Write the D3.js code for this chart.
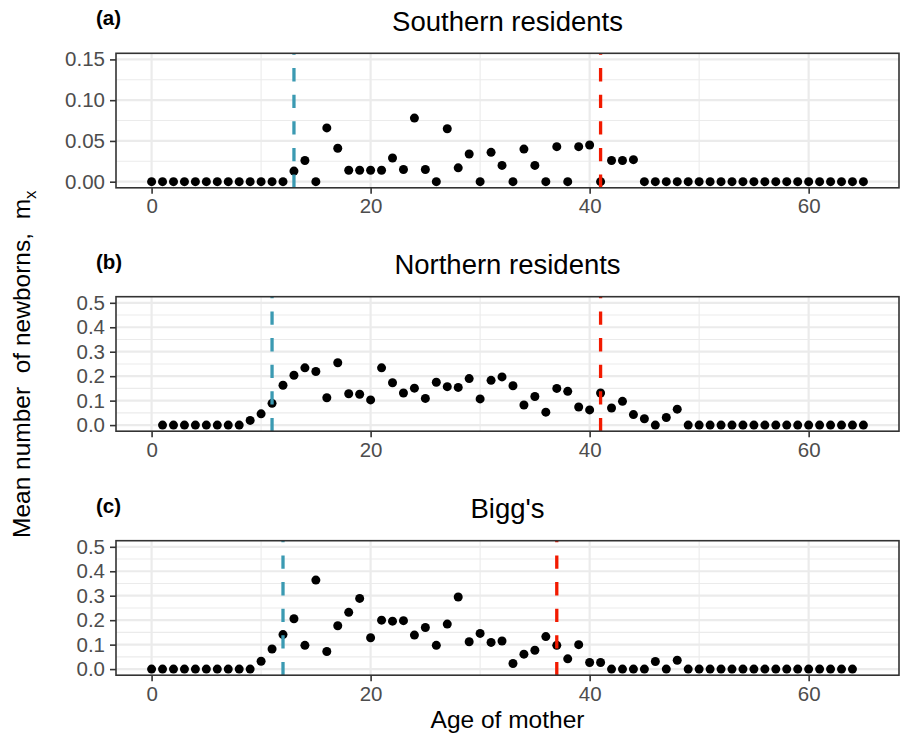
<!DOCTYPE html>
<html>
<head>
<meta charset="utf-8">
<script src="https://cdn.jsdelivr.net/npm/d3@7"></script>
<style>
  body { margin: 0; background: #fff; }
  text { font-family: "Liberation Sans", Arial, sans-serif; }
</style>
</head>
<body>
<div id="chart"></div>
<script>
// Age-specific fecundity (mean newborns per mother)
const agesSouthern = [0,1,2,3,4,5,6,7,8,9,10,11,12,13,14,15,16,17,18,19,20,21,22,23,24,25,26,27,28,29,30,31,32,33,34,35,36,37,38,39,40,41,42,43,44,45,46,47,48,49,50,51,52,53,54,55,56,57,58,59,60,61,62,63,64,65];
const mxSouthern = [0,0,0,0,0,0,0,0,0,0,0,0,0,0.013,0.026,0,0.066,0.041,0.014,0.014,0.014,0.014,0.029,0.015,0.078,0.015,0,0.065,0.017,0.034,0,0.036,0.020,0,0.040,0.020,0,0.043,0,0.043,0.045,0,0.026,0.026,0.027,0,0,0,0,0,0,0,0,0,0,0,0,0,0,0,0,0,0,0,0,0];

const agesNorthern = [1,2,3,4,5,6,7,8,9,10,11,12,13,14,15,16,17,18,19,20,21,22,23,24,25,26,27,28,29,30,31,32,33,34,35,36,37,38,39,40,41,42,43,44,45,46,47,48,49,50,51,52,53,54,55,56,57,58,59,60,61,62,63,64,65];
const mxNorthern = [0,0,0,0,0,0,0,0,0.019,0.046,0.089,0.163,0.204,0.234,0.219,0.112,0.255,0.128,0.126,0.103,0.234,0.173,0.131,0.151,0.109,0.175,0.157,0.154,0.190,0.107,0.183,0.197,0.161,0.082,0.117,0.053,0.150,0.138,0.074,0.062,0.131,0.070,0.097,0.043,0.026,0,0.031,0.065,0,0,0,0,0,0,0,0,0,0,0,0,0,0,0,0,0];

const agesBiggs = [0,1,2,3,4,5,6,7,8,9,10,11,12,13,14,15,16,17,18,19,20,21,22,23,24,25,26,27,28,29,30,31,32,33,34,35,36,37,38,39,40,41,42,43,44,45,46,47,48,49,50,51,52,53,54,55,56,57,58,59,60,61,62,63,64];
const mxBiggs = [0,0,0,0,0,0,0,0,0,0,0.032,0.082,0.141,0.206,0.097,0.364,0.072,0.177,0.232,0.289,0.128,0.200,0.196,0.198,0.139,0.170,0.097,0.184,0.295,0.112,0.146,0.109,0.115,0.023,0.061,0.077,0.133,0.097,0.042,0.100,0.027,0.027,0,0,0,0,0.031,0,0.036,0,0,0,0,0,0,0,0,0,0,0,0,0,0,0,0];

const panelTitles = ["Southern residents", "Northern residents", "Bigg's"];
const panelTags = ["(a)", "(b)", "(c)"];
const firstBirthAge = [13, 11, 12];   // blue dashed line
const lastBirthAge = [41, 41, 37];    // red dashed line
const xTicks = [0, 20, 40, 60];
const yTicksSouthern = [0, 0.05, 0.10, 0.15];
const yTicksOther = [0, 0.1, 0.2, 0.3, 0.4, 0.5];

const panels = [
    { ages: agesSouthern, mx: mxSouthern, yMax: 0.15, yTicks: yTicksSouthern, fmt: d3.format(".2f") },
    { ages: agesNorthern, mx: mxNorthern, yMax: 0.5, yTicks: yTicksOther, fmt: d3.format(".1f") },
    { ages: agesBiggs, mx: mxBiggs, yMax: 0.5, yTicks: yTicksOther, fmt: d3.format(".1f") }
];

const W = 904, H = 733;
const left = 116, right = 899;
const panelTops = [53.3, 296.7, 540.7];
const panelH = 134.5;

const svg = d3.select("#chart").append("svg")
    .attr("width", W)
    .attr("height", H);

svg.append("rect").attr("width", W).attr("height", H).attr("fill", "#fff");

// same x range on every panel (ggplot 5% expansion of 0..65)
const x = d3.scaleLinear().domain([-3.25, 68.25]).range([left, right]);

panels.forEach((p, i) => {
    const top = panelTops[i];
    const bottom = top + panelH;
    const pad = p.yMax * 0.05;
    const y = d3.scaleLinear().domain([-pad, p.yMax + pad]).range([bottom, top]);

    const g = svg.append("g");

    // minor grid
    const xMinor = [10, 30, 50];
    const yMinor = p.yTicks.slice(1).map((t, k) => (t + p.yTicks[k]) / 2);
    g.selectAll(".xminor").data(xMinor).enter().append("line")
        .attr("x1", d => x(d)).attr("x2", d => x(d))
        .attr("y1", top).attr("y2", bottom)
        .attr("stroke", "#EBEBEB").attr("stroke-width", 1.1);
    g.selectAll(".yminor").data(yMinor).enter().append("line")
        .attr("x1", left).attr("x2", right)
        .attr("y1", d => y(d)).attr("y2", d => y(d))
        .attr("stroke", "#EBEBEB").attr("stroke-width", 1.1);

    // major grid
    g.selectAll(".xmajor").data(xTicks).enter().append("line")
        .attr("x1", d => x(d)).attr("x2", d => x(d))
        .attr("y1", top).attr("y2", bottom)
        .attr("stroke", "#EBEBEB").attr("stroke-width", 2.2);
    g.selectAll(".ymajor").data(p.yTicks).enter().append("line")
        .attr("x1", left).attr("x2", right)
        .attr("y1", d => y(d)).attr("y2", d => y(d))
        .attr("stroke", "#EBEBEB").attr("stroke-width", 2.2);

    // points
    g.selectAll(".dot").data(p.ages.map((a, k) => ({ age: a, mx: p.mx[k] })))
        .enter().append("circle")
        .attr("cx", d => x(d.age))
        .attr("cy", d => y(d.mx))
        .attr("r", 4.5)
        .attr("fill", "#000");

    // first / last age at birth
    [[firstBirthAge[i], "#3B9AB2"], [lastBirthAge[i], "#F21A00"]].forEach(([a, col]) => {
        g.append("line")
            .attr("x1", x(a)).attr("x2", x(a))
            .attr("y1", bottom).attr("y2", top)
            .attr("stroke", col)
            .attr("stroke-width", 3.3)
            .attr("stroke-dasharray", "13.3,13.3");
    });

    // panel border
    g.append("rect")
        .attr("x", left).attr("y", top)
        .attr("width", right - left).attr("height", panelH)
        .attr("fill", "none")
        .attr("stroke", "#333333")
        .attr("stroke-width", 1.6);

    // axes
    const yAxis = g.append("g")
        .attr("transform", `translate(${left},0)`)
        .call(d3.axisLeft(y).tickValues(p.yTicks).tickFormat(p.fmt).tickSize(6).tickPadding(5));
    const xAxis = g.append("g")
        .attr("transform", `translate(0,${bottom})`)
        .call(d3.axisBottom(x).tickValues(xTicks).tickSize(6).tickPadding(5));

    [yAxis, xAxis].forEach(ax => {
        ax.select(".domain").remove();
        ax.selectAll(".tick line").attr("stroke", "#333333").attr("stroke-width", 1.6);
        ax.selectAll(".tick text")
            .style("font-family", "'Liberation Sans', Arial, sans-serif")
            .style("font-size", "20.5px")
            .attr("fill", "#4D4D4D");
    });

    // title and tag
    svg.append("text")
        .attr("x", (left + right) / 2)
        .attr("y", top - 22.5)
        .attr("text-anchor", "middle")
        .style("font-size", "27.5px")
        .attr("fill", "#000")
        .text(panelTitles[i]);

    svg.append("text")
        .attr("x", 96)
        .attr("y", top - 28)
        .style("font-size", "20.5px")
        .style("font-weight", "bold")
        .attr("fill", "#000")
        .text(panelTags[i]);
});

// axis titles
svg.append("text")
    .attr("x", (left + right) / 2)
    .attr("y", 728)
    .attr("text-anchor", "middle")
    .style("font-size", "24.5px")
    .attr("fill", "#000")
    .text("Age of mother");

const yTitle = svg.append("text")
    .attr("transform", `translate(30,${(panelTops[0] + panelTops[2] + panelH) / 2}) rotate(-90)`)
    .attr("text-anchor", "middle")
    .style("font-size", "24.5px")
    .attr("fill", "#000");
yTitle.append("tspan").text("Mean number\u00A0 of newborns,\u00A0 m");
yTitle.append("tspan").attr("dy", 6).style("font-size", "17px").text("x");
</script>
</body>
</html>
